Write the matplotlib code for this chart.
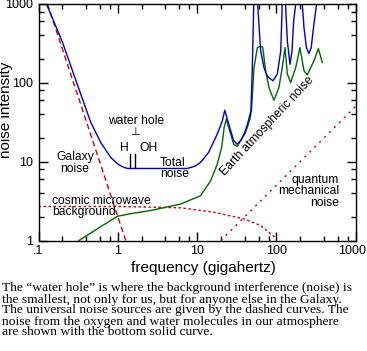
import matplotlib
matplotlib.use("Agg")
import matplotlib.pyplot as plt
from matplotlib.ticker import FixedLocator, LogLocator, NullFormatter
from matplotlib.transforms import ScaledTranslation

# frequency in GHz, noise intensity (arbitrary)
galaxy_f = [0.13, 1.26]
galaxy_v = [1000, 1.0]

cmb_f = [0.1, 1, 6.2, 16.4, 39, 63.6, 98]
cmb_v = [2.7, 2.7, 2.6, 2.28, 1.88, 1.55, 1.08]

quantum_f = [20, 1000]
quantum_v = [1, 50]

atmos_f = [0.325, 0.554, 0.99, 1.5, 2.6, 6.2, 11.1, 14.9, 18, 20.5, 22, 23.4,
           26.6, 29, 32, 35.6, 41, 46.6, 48.6, 52.4, 57.8, 62, 67.4, 73.5,
           80.9, 93.5, 108, 119, 129, 138, 152, 176, 199, 224, 246, 299, 340, 381]
atmos_v = [1.0, 1.41, 2.03, 2.2, 2.4, 2.9, 3.7, 5.75, 9.3, 15.2, 27, 34.6,
           22.4, 16.7, 15.6, 18.5, 23.5, 34.6, 44, 156, 280, 290, 285, 142,
           87, 60, 87, 156, 280, 130, 101, 156, 280, 142, 126, 190, 272, 181]

total_f = [0.126, 0.2, 0.33, 0.457, 0.61, 0.817, 0.99, 1.15, 1.33, 3, 7.56,
           9.5, 11.1, 14.0, 18.0, 20.9, 22.4, 26.6, 29, 32, 35.6, 39.3, 43.4,
           47.9, 49.9, 52, 55, 58.2, 63.6, 70, 77, 90.8, 103, 114, 119, 125,
           131, 138, 149, 158, 166, 176, 195, 213, 224, 240, 258, 276, 299, 323]
total_v = [1000, 330, 79, 31.5, 17.5, 11.3, 9.4, 8.6, 8.2, 8.2, 8.2,
           8.8, 9.8, 13.1, 22.4, 33, 45, 24.7, 18.5, 16.7, 18.5, 22.4, 30,
           44, 156, 1000, 3000, 1000, 254, 156, 122, 106, 129, 254, 1000, 3000,
           1000, 339, 172, 254, 610, 1000, 3000, 1000, 500, 280, 235, 280, 560, 1000]

water_lines_f = [1.42, 1.66]

x_ticks = [0.1, 1, 10, 100, 1000]
x_labels = [".1", "1", "10", "100", "1000"]
y_ticks = [1, 10, 100, 1000]
y_labels = ["1", "10", "100", "1000"]

caption = [
    "The \u201cwater hole\u201d is where the background interference (noise) is",
    "the smallest, not only for us, but for anyone else in the Galaxy.",
    "The universal noise sources are given by the dashed curves. The",
    "noise from the oxygen and water molecules in our atmosphere",
    "are shown with the bottom solid curve.",
]

plt.rcParams["font.family"] = ["Liberation Sans", "DejaVu Sans"]

W, H = 367, 351
fig = plt.figure(figsize=(W / 100, H / 100), dpi=100)
fig.patch.set_facecolor("white")
ax = fig.add_axes([38.5 / W, 1 - 240.5 / H, 317 / W, 236.5 / H])

red = "#cc0000"
ax.plot(galaxy_f, galaxy_v, color=red, lw=1.0, dashes=(4, 2.5))
ax.plot(cmb_f, cmb_v, color=red, lw=1.0, dashes=(1.8, 1.8))
ax.plot(quantum_f, quantum_v, color=red, lw=1.0, dashes=(1.5, 3.5))
ax.plot(atmos_f, atmos_v, color="#006600", lw=1.0)
ax.plot(total_f, total_v, color="#0000bb", lw=1.0)
for f in water_lines_f:
    ax.plot([f, f], [8.2, 12.5], color="black", lw=1.0)

ax.set_xscale("log")
ax.set_yscale("log")
ax.set_xlim(0.1, 1000)
ax.set_ylim(1, 1000)

ax.xaxis.set_major_locator(FixedLocator(x_ticks))
ax.set_xticklabels(x_labels)
ax.yaxis.set_major_locator(FixedLocator(y_ticks))
ax.set_yticklabels(y_labels)
for axis in (ax.xaxis, ax.yaxis):
    axis.set_minor_locator(LogLocator(base=10, subs=[2, 4, 6, 8]))
    axis.set_minor_formatter(NullFormatter())
ax.tick_params(which="both", direction="in", top=True, right=True, width=1,
               labelsize=9, colors="black")
ax.tick_params(which="major", length=6.5)
ax.tick_params(which="minor", length=3.6)
ax.tick_params(axis="x", pad=3)
ax.tick_params(axis="y", pad=4)
for s in ax.spines.values():
    s.set_linewidth(1.0)

# pull the last x label a little inside the figure, as in the original
last = ax.get_xticklabels()[-1]
last.set_transform(last.get_transform() + ScaledTranslation(-3 / 100, 0, fig.dpi_scale_trans))

fs = 8.7
ax.text(0.29, 9.6, "Galaxy\nnoise", ha="center", va="center", fontsize=fs, linespacing=0.97)
ax.text(0.15, 2.7, "cosmic microwave\nbackground", ha="left", va="center", fontsize=fs, linespacing=0.97)
ax.text(1.69, 32.5, "water hole", ha="center", va="center", fontsize=fs)
ax.text(1.64, 21.9, "\u22a5", ha="center", va="baseline", fontsize=8)
ax.text(1.20, 14.9, "H", ha="center", va="center", fontsize=fs)
ax.text(2.41, 14.9, "OH", ha="center", va="center", fontsize=fs)
ax.text(3.41, 8.2, "Total\nnoise", ha="left", va="center", fontsize=fs, linespacing=0.97)
ax.text(78, 28.6, "Earth atmospheric noise", ha="center", va="center", fontsize=fs,
        rotation=47, rotation_mode="anchor")
ax.text(617, 4.2, "quantum\nmechanical\nnoise", ha="right", va="center", fontsize=fs,
        linespacing=0.97, multialignment="right")

fig.text(203 / W, 1 - 268 / H, "frequency (gigahertz)", ha="center", va="center", fontsize=11)
fig.text(6.5 / W, 1 - 110 / H, "noise intensity", ha="center", va="center", fontsize=11,
         rotation=90)

cap_y = [288, 299.5, 310.5, 321.5, 332]
for line, y in zip(caption, cap_y):
    fig.text(2 / W, 1 - y / H, line, ha="left", va="center", fontsize=9.7,
             family="Liberation Serif")

fig.savefig("out.png", dpi=100)
